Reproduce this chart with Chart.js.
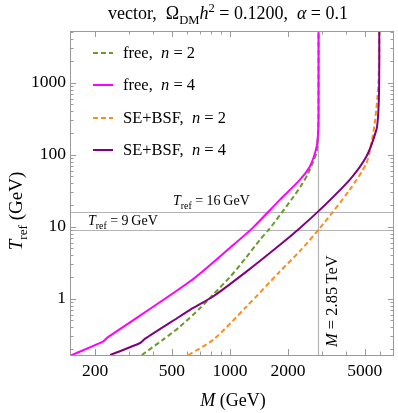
<!DOCTYPE html>
<html><head><meta charset="utf-8">
<script src="https://cdn.jsdelivr.net/npm/chart.js@4/dist/chart.umd.min.js"></script>
<style>html,body{margin:0;padding:0;background:#fff;}#wrap{width:398px;height:413px;}</style>
</head><body><div id="wrap"><canvas id="c" width="398" height="413"></canvas></div>
<script>
// ---- data (M in GeV, T_ref in GeV) ----
const xTickLabels = [200, 500, 1000, 2000, 5000];
const yTickLabels = [1, 10, 100, 1000];
const freeN2_M = [349, 450, 551, 700, 820, 1000, 1200, 1430, 1600, 1850, 2087, 2350, 2543, 2700, 2812, 2860, 2875, 2878];
const freeN2_T = [0.165, 0.27, 0.41, 0.74, 1.15, 2.0, 3.6, 6.6, 9.3, 15.5, 24, 38, 55, 80, 110, 200, 400, 6000];
const freeN4_M = [150, 220, 231, 621, 1000, 1311, 1816, 2305, 2596, 2814, 2866, 2875, 2875];
const freeN4_T = [0.163, 0.255, 0.287, 1.74, 5.1, 9.6, 23.7, 45, 69, 130, 222, 400, 6000];
const bsfN2_M = [608, 820, 1220, 1816, 2305, 2930, 4180, 5100, 5450, 5650, 5800, 5880, 5930, 5940];
const bsfN2_T = [0.165, 0.27, 0.78, 2.39, 4.6, 9.6, 32.7, 76.7, 161, 300, 600, 1000, 2500, 6000];
const bsfN4_M = [239, 342, 363, 551, 620, 820, 1220, 1816, 2305, 2930, 4180, 5100, 5740, 5850, 5920, 5940, 5940];
const bsfN4_T = [0.165, 0.242, 0.278, 0.57, 0.70, 1.08, 2.39, 5.6, 9.6, 17.2, 45, 94.7, 222, 335, 700, 2000, 6000];
const refT = [16, 9];
const refM = 2850;
const seriesNames = ['free', 'free', 'SE+BSF', 'SE+BSF'];
const seriesN = [2, 4, 2, 4];

const SERIF = '"Liberation Serif","DejaVu Serif",serif';
const COLORS = ['#6b9a2a', '#ff00ff', '#ff8c1a', '#800080'];
const DASHES = [[5, 3], [], [5, 3], []];

function pts(M, T) { return M.map((m, i) => ({x: m, y: T[i]})); }

function fontFor(s, size) {
  if (s === 'sub' || s === 'sup') return (size * 0.7).toFixed(1) + 'px ' + SERIF;
  if (s === 'i') return 'italic ' + size + 'px ' + SERIF;
  return size + 'px ' + SERIF;
}
function measureRuns(ctx, parts, size) {
  let w = 0;
  for (const [t, s] of parts) { ctx.font = fontFor(s, size); w += ctx.measureText(t).width; }
  return w;
}
function drawRuns(ctx, parts, x, y, size, align) {
  let w = measureRuns(ctx, parts, size);
  let cx = align === 'center' ? x - w / 2 : (align === 'right' ? x - w : x);
  ctx.textBaseline = 'alphabetic';
  ctx.textAlign = 'left';
  ctx.fillStyle = '#000';
  for (const [t, s] of parts) {
    ctx.font = fontFor(s, size);
    let dy = s === 'sub' ? size * 0.28 : (s === 'sup' ? -size * 0.4 : 0);
    ctx.fillText(t, cx, y + dy);
    cx += ctx.measureText(t).width;
  }
}

const framePlugin = {
  id: 'frame',
  beforeDatasetsDraw(chart) {
    const {ctx, chartArea: a, scales: {x, y}} = chart;
    ctx.save();
    ctx.strokeStyle = '#b4b4b4';
    ctx.lineWidth = 1.2;
    for (const t of refT) {
      const py = Math.round(y.getPixelForValue(t)) + 0.5;
      ctx.beginPath(); ctx.moveTo(a.left, py); ctx.lineTo(a.right, py); ctx.stroke();
    }
    const px = Math.round(x.getPixelForValue(refM)) + 0.5;
    ctx.beginPath(); ctx.moveTo(px, a.top); ctx.lineTo(px, a.bottom); ctx.stroke();
    ctx.restore();
  },
  afterDraw(chart) {
    const {ctx, chartArea: a, scales: {x, y}} = chart;
    ctx.save();
    ctx.strokeStyle = '#9a9a9a';
    ctx.lineWidth = 1;
    ctx.strokeRect(a.left + 0.5, a.top + 0.5, a.right - a.left - 1, a.bottom - a.top);
    ctx.beginPath();
    for (let d = 100; d <= 10000; d *= 10) {
      for (let k = 1; k <= 9; k++) {
        const v = k * d;
        if (v < x.min || v > x.max) continue;
        const L = xTickLabels.includes(v) ? 6 : 3.5;
        const p = Math.round(x.getPixelForValue(v)) + 0.5;
        ctx.moveTo(p, a.bottom); ctx.lineTo(p, a.bottom - L);
        ctx.moveTo(p, a.top); ctx.lineTo(p, a.top + L);
      }
    }
    for (let d = 0.1; d <= 1000.1; d *= 10) {
      for (let k = 1; k <= 9; k++) {
        const v = k * d;
        if (v < y.min || v > y.max) continue;
        const L = yTickLabels.some(t => Math.abs(t - v) < 1e-6 * t) ? 6 : 3.5;
        const p = Math.round(y.getPixelForValue(v)) + 0.5;
        ctx.moveTo(a.left, p); ctx.lineTo(a.left + L, p);
        ctx.moveTo(a.right, p); ctx.lineTo(a.right - L, p);
      }
    }
    ctx.stroke();

    // title
    drawRuns(ctx, [['vector,  ', 'n'], ['Ω', 'n'], ['DM', 'sub'], ['h', 'i'], ['2', 'sup'], [' = 0.1200,  ', 'n'], ['α', 'i'], [' = 0.1', 'n']], 228, 19, 18, 'center');
    // axis titles
    drawRuns(ctx, [['M', 'i'], [' (GeV)', 'n']], 233, 406, 18, 'center');
    ctx.save();
    ctx.translate(22, 211); ctx.rotate(-Math.PI / 2);
    drawRuns(ctx, [['T', 'i'], ['ref', 'sub'], [' (GeV)', 'n']], 0, 0, 19, 'center');
    ctx.restore();
    // annotations
    drawRuns(ctx, [['T', 'i'], ['ref', 'sub'], [' = 16\u2009GeV', 'n']], 173, 205, 14, 'left');
    drawRuns(ctx, [['T', 'i'], ['ref', 'sub'], [' = 9\u2009GeV', 'n']], 88, 225, 14, 'left');
    ctx.save();
    ctx.translate(337, 347); ctx.rotate(-Math.PI / 2);
    drawRuns(ctx, [['M', 'i'], [' = 2.85\u2009TeV', 'n']], 0, 0, 16.5, 'left');
    ctx.restore();
    // legend
    const ly = [53, 85, 118, 150];
    for (let i = 0; i < 4; i++) {
      ctx.save();
      ctx.strokeStyle = COLORS[i]; ctx.lineWidth = 2; ctx.setLineDash(DASHES[i]);
      ctx.beginPath(); ctx.moveTo(93, ly[i]); ctx.lineTo(113, ly[i]); ctx.stroke();
      ctx.restore();
      drawRuns(ctx, [[seriesNames[i] + ',  ', 'n'], ['n', 'i'], [' = ' + seriesN[i], 'n']], 123, ly[i] + 5, 16.5, 'left');
    }
    ctx.restore();
  }
};

const datasets = [
  {data: pts(freeN2_M, freeN2_T), order: 3},
  {data: pts(freeN4_M, freeN4_T), order: 2},
  {data: pts(bsfN2_M, bsfN2_T), order: 4},
  {data: pts(bsfN4_M, bsfN4_T), order: 1},
].map((d, i) => Object.assign(d, {
  showLine: true, pointRadius: 0, borderColor: COLORS[i], borderWidth: 2,
  borderDash: DASHES[i], tension: 0.25, fill: false
}));

new Chart(document.getElementById('c'), {
  type: 'scatter',
  data: {datasets},
  options: {
    responsive: false, animation: false,
    layout: {padding: {top: 31, right: 4, left: 0, bottom: 0}},
    plugins: {legend: {display: false}, tooltip: {enabled: false}, title: {display: false}},
    scales: {
      x: {
        type: 'logarithmic', min: 148, max: 7080,
        grid: {display: false, drawTicks: false}, border: {display: false},
        afterBuildTicks: s => { s.ticks = xTickLabels.map(v => ({value: v})); },
        afterFit: s => { s.height = 58; },
        ticks: {callback: v => String(v), font: {family: SERIF, size: 17.5}, color: '#000', maxRotation: 0, autoSkip: false, padding: 6}
      },
      y: {
        type: 'logarithmic', min: 0.165, max: 5200,
        grid: {display: false, drawTicks: false}, border: {display: false},
        afterBuildTicks: s => { s.ticks = yTickLabels.map(v => ({value: v})); },
        afterFit: s => { s.width = 70; },
        ticks: {callback: v => String(v), font: {family: SERIF, size: 17.5}, color: '#000', autoSkip: false, padding: 4}
      }
    }
  },
  plugins: [framePlugin]
});
</script></body></html>
